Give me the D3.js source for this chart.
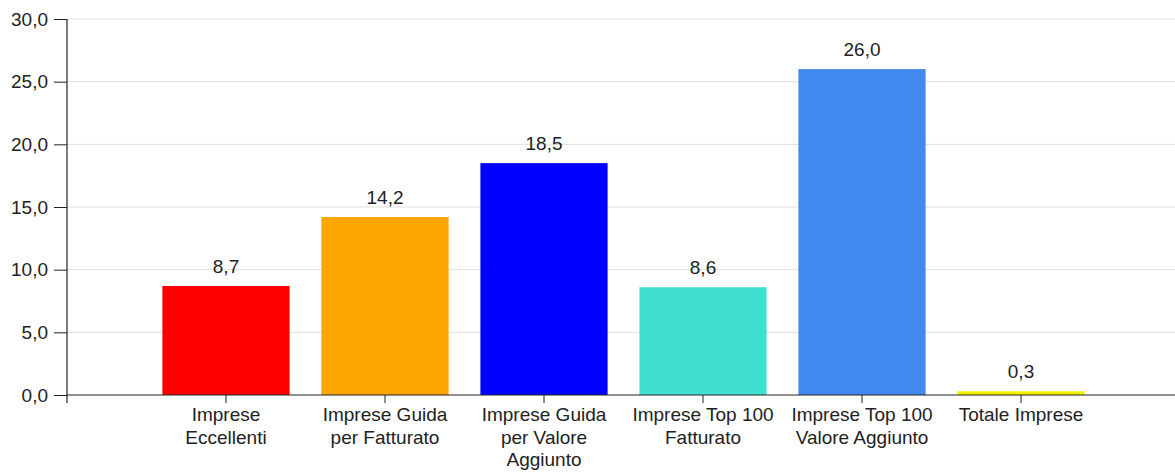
<!DOCTYPE html>
<html><head><meta charset="utf-8">
<script src="https://cdn.jsdelivr.net/npm/d3@7"></script>
<style>
body{margin:0;background:#fff;}
text{font-family:"Liberation Sans",Arial,sans-serif;}
</style></head>
<body><svg id="c" width="1175" height="474"></svg>
<script>
const categories = [
  ["Imprese", "Eccellenti"],
  ["Imprese Guida", "per Fatturato"],
  ["Imprese Guida", "per Valore", "Aggiunto"],
  ["Imprese Top 100", "Fatturato"],
  ["Imprese Top 100", "Valore Aggiunto"],
  ["Totale Imprese"]
];
const values = [8.7, 14.2, 18.5, 8.6, 26.0, 0.3];
const colors = ["#ff0000", "#ffa500", "#0000ff", "#40e0d0", "#4189ee", "#f2f200"];
const yTicks = [0, 5, 10, 15, 20, 25, 30];

(function () {
const svg = d3.select("#c");
const mLeft = 67, mRight = 1180, mTop = 19, mBottom = 395;
const fmt = v => d3.format(".1f")(v).replace(".", ",");
const keys = categories.map((c, i) => i);

const x = d3.scaleBand().domain(keys).range([mLeft, mRight]).paddingInner(0.2).paddingOuter(0.6);
const y = d3.scaleLinear().domain([0, 30]).range([mBottom, mTop]);

// gridlines
svg.append("g").selectAll("line").data(yTicks.filter(d => d > 0)).join("line")
  .attr("x1", mLeft).attr("x2", 1175)
  .attr("y1", d => y(d)).attr("y2", d => y(d))
  .attr("stroke", "#dedede").attr("stroke-width", 1);

// bars
svg.append("g").selectAll("rect").data(values).join("rect")
  .attr("x", (d, i) => x(i)).attr("width", x.bandwidth())
  .attr("y", d => y(d)).attr("height", d => y(0) - y(d))
  .attr("fill", (d, i) => colors[i]);

// value labels
svg.append("g").selectAll("text").data(values).join("text")
  .attr("x", (d, i) => x(i) + x.bandwidth() / 2)
  .attr("y", d => y(d) - 13)
  .attr("text-anchor", "middle")
  .attr("font-size", 19).attr("fill", "#222")
  .text(d => fmt(d));

// y axis
const ya = svg.append("g").attr("transform", `translate(${mLeft},0)`)
  .call(d3.axisLeft(y).tickValues(yTicks).tickFormat(fmt).tickSize(13).tickPadding(6));
ya.select(".domain").remove();
ya.selectAll(".tick line").attr("stroke", "#222");
ya.selectAll(".tick text").attr("font-size", 19).attr("fill", "#222").attr("font-family", "Liberation Sans, Arial, sans-serif");
svg.append("line").attr("x1", mLeft).attr("x2", mLeft).attr("y1", y(30)).attr("y2", y(0) + 8)
  .attr("stroke", "#222").attr("stroke-width", 1.2);

// x axis
svg.append("line").attr("x1", mLeft).attr("x2", 1175).attr("y1", y(0)).attr("y2", y(0))
  .attr("stroke", "#222").attr("stroke-width", 1.2);
const xt = svg.append("g").selectAll("g").data(categories).join("g")
  .attr("transform", (d, i) => `translate(${x(i) + x.bandwidth() / 2},${y(0)})`);
xt.append("line").attr("y1", 0).attr("y2", 8).attr("stroke", "#222");
xt.append("text").attr("text-anchor", "middle").attr("font-size", 19).attr("fill", "#222")
  .selectAll("tspan").data(d => d).join("tspan")
  .attr("x", 0).attr("y", (d, j) => 26 + j * 22.5).text(d => d);
})();
</script></body></html>
